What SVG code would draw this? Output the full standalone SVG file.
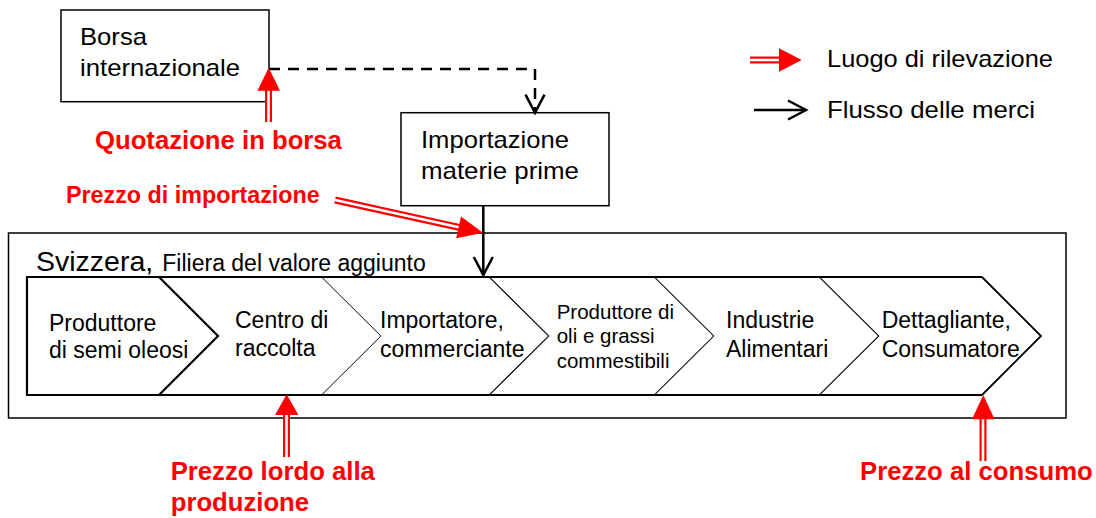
<svg xmlns="http://www.w3.org/2000/svg" width="1096" height="518" viewBox="0 0 1096 518">
<style>
  text { font-family: "Liberation Sans", Arial, sans-serif; fill: #000; }
  .box { fill: #fff; stroke: #000; stroke-width: 1.5; }
  .t24 { font-size: 24px; }
  .t23 { font-size: 23px; }
  .t20 { font-size: 20.5px; }
  .red { font-weight: bold; fill: #ff0000; }
  .chf { fill: #fff; stroke: none; }
  .edge { fill: none; stroke: #000; stroke-width: 2.2; stroke-linejoin: miter; }
  .thin { fill: none; stroke: #000; stroke-width: 1.4; }
  .flow { fill: none; stroke: #000; stroke-width: 2.5; }
  .dash { fill: none; stroke: #000; stroke-width: 2.5; stroke-dasharray: 11 8; }
  .rs { fill: none; stroke: #ff0000; stroke-width: 7; }
  .rw { fill: none; stroke: #fff; stroke-width: 2.6; }
  .rh { fill: #ff0000; stroke: none; }
</style>
<defs>
  <marker id="v" markerUnits="userSpaceOnUse" viewBox="-22 -12 24 24" refX="0" refY="0" markerWidth="24" markerHeight="24" orient="auto" overflow="visible">
    <path d="M-18,-9.5 L0,0 L-18,9.5" fill="none" stroke="#000" stroke-width="2.5" stroke-dasharray="none"/>
  </marker>
</defs>
<rect width="1096" height="518" fill="#fff"/>

<g id="svizzera">
  <rect class="box" x="8.5" y="233" width="1057.5" height="185"/>
  <text x="36" y="270.7"><tspan font-size="28.5">Svizzera,</tspan><tspan x="162.3" font-size="23">Filiera del valore aggiunto</tspan></text>
</g>

<g id="borsa">
  <rect class="box" x="61" y="10" width="208" height="91.7"/>
  <text class="t24" x="80" y="45" textLength="67" lengthAdjust="spacingAndGlyphs">Borsa</text>
  <text class="t24" x="80" y="76" textLength="160" lengthAdjust="spacingAndGlyphs">internazionale</text>
</g>

<g id="importazione">
  <rect class="box" x="401" y="112.7" width="208" height="93"/>
  <text class="t24" x="421" y="147.7" textLength="148" lengthAdjust="spacingAndGlyphs">Importazione</text>
  <text class="t24" x="421" y="179" textLength="158" lengthAdjust="spacingAndGlyphs">materie prime</text>
</g>

<g id="c2">
  <path class="chf" d="M159,277 H322 L381.5,336 L322,395 H159 L218,336 Z"/>
  <path class="edge" d="M159,277 H322 M322,395 H159"/>
  <path class="thin" d="M322,277 L381.5,336 L322,395"/>
  <text class="t23" x="235" y="328.3">Centro di</text>
  <text class="t23" x="235" y="356">raccolta</text>
</g>
<g id="c3">
  <path class="chf" d="M322,277 H490 L549.5,336 L490,395 H322 L381.5,336 Z"/>
  <path class="edge" d="M322,277 H490 L549.5,336 L490,395 H322"/>
  <text class="t23" x="380" y="328.3">Importatore,</text>
  <text class="t23" x="380" y="356.7">commerciante</text>
</g>
<g id="c4">
  <path class="chf" d="M490,277 H655 L714.5,336 L655,395 H490 L549.5,336 Z"/>
  <path class="edge" d="M490,277 H655 M655,395 H490"/>
  <path class="thin" d="M655,277 L714.5,336 L655,395" style="stroke-width:1.8"/>
  <text class="t20" x="556.7" y="319.3">Produttore di</text>
  <text class="t20" x="556.7" y="343.3">oli e grassi</text>
  <text class="t20" x="556.7" y="368.3">commestibili</text>
</g>
<g id="c5">
  <path class="chf" d="M655,277 H820 L879.5,336 L820,395 H655 L714.5,336 Z"/>
  <path class="edge" d="M655,277 H820 L879.5,336 L820,395 H655"/>
  <text class="t23" x="726" y="328.3">Industrie</text>
  <text class="t23" x="726" y="356.7">Alimentari</text>
</g>
<g id="c6">
  <path class="chf" d="M820,277 H982 L1041,336 L982,395 H820 L879.5,336 Z"/>
  <path class="edge" d="M820,277 H982 M982,395 H820"/>
  <path class="thin" d="M982,277 L1041,336 L982,395" style="stroke-width:1.8"/>
  <text class="t23" x="881.7" y="328.3">Dettagliante,</text>
  <text class="t23" x="881.7" y="356.7">Consumatore</text>
</g>
<g id="c1">
  <path class="chf" d="M27,277 H159 L218,336 L159,395 H27 Z"/>
  <path class="edge" d="M159,277 H27 V395 H159 M159,277 L218,336 L159,395"/>
  <text class="t23" x="49" y="331">Produttore</text>
  <text class="t23" x="49" y="358.3">di semi oleosi</text>
</g>

<g id="connectors">
  <path class="dash" d="M269,69 H535 V112.7" marker-end="url(#v)"/>
  <path class="flow" d="M483.3,205.7 V275" marker-end="url(#v)"/>
</g>

<g id="rilevazione">
  <g id="r-borsa">
    <path class="rs" d="M268.5,122 V89"/>
    <path class="rw" d="M268.5,122 V89"/>
    <polygon class="rh" points="268.7,67.7 280,90.7 257.4,90.7"/>
    <text class="red" x="95" y="149" font-size="25.7">Quotazione in borsa</text>
  </g>
  <g id="r-import">
    <path class="rs" d="M335,200 L460,227.6"/>
    <path class="rw" d="M335,200 L460,227.6"/>
    <polygon class="rh" points="483,232.7 456.2,238.2 461,216.6"/>
    <text class="red" x="66" y="203.3" font-size="23.3">Prezzo di importazione</text>
  </g>
  <g id="r-produzione">
    <path class="rs" d="M286.5,457 V413"/>
    <path class="rw" d="M286.5,457 V413"/>
    <polygon class="rh" points="286.7,394.3 298.4,415 275,415"/>
    <text class="red" x="170.7" y="480" font-size="25.7">Prezzo lordo alla</text>
    <text class="red" x="170.7" y="510.7" font-size="25.7">produzione</text>
  </g>
  <g id="r-consumo">
    <path class="rs" d="M983,461 V417"/>
    <path class="rw" d="M983,461 V417"/>
    <polygon class="rh" points="983.3,395 994.6,419.3 972,419.3"/>
    <text class="red" x="860" y="480" font-size="25.7">Prezzo al consumo</text>
  </g>
</g>

<g id="legend">
  <path class="rs" d="M750,60 H781"/>
  <path class="rw" d="M750,60 H781"/>
  <polygon class="rh" points="801.7,60 779,48.3 779,71.7"/>
  <text class="t24" x="827" y="67.3" textLength="226" lengthAdjust="spacingAndGlyphs">Luogo di rilevazione</text>
  <path class="flow" d="M754,110 H806" marker-end="url(#v)"/>
  <text class="t24" x="827" y="118.3" textLength="208" lengthAdjust="spacingAndGlyphs">Flusso delle merci</text>
</g>
</svg>
